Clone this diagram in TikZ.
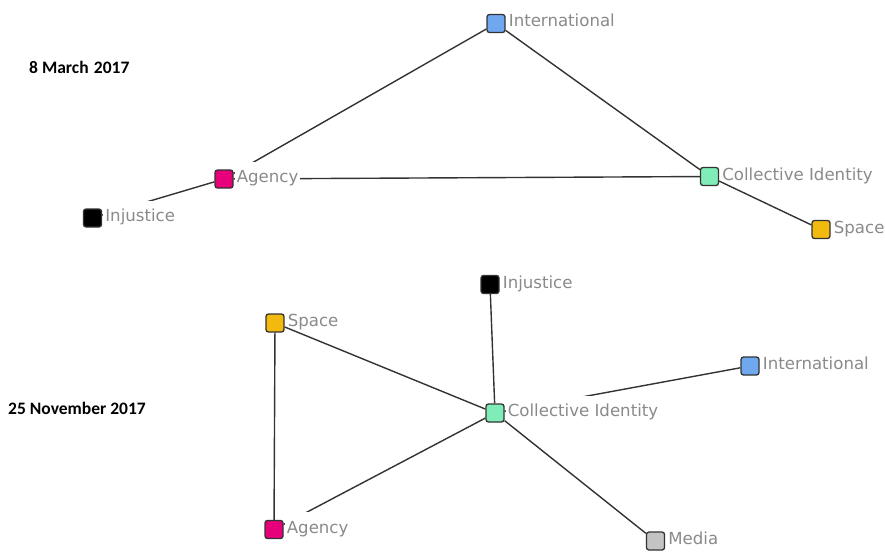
\documentclass[tikz,border=0pt]{standalone}
\usepackage{fontspec}
\setmainfont{DejaVu Sans}
\newfontfamily\titlefont{Carlito}
\definecolor{cintl}{HTML}{6FA8EE}
\definecolor{cagency}{HTML}{E6007A}
\definecolor{cci}{HTML}{80EDB8}
\definecolor{cspace}{HTML}{F2B90F}
\definecolor{cmedia}{HTML}{C3C3C3}
\definecolor{cline}{HTML}{333333}
\definecolor{ctext}{HTML}{8A8A8A}
\begin{document}
\begin{tikzpicture}[x=1pt,y=-1pt,
  sq/.style={draw=cline, line width=1.3pt, rounded corners=2.5pt, minimum size=18pt, inner sep=0pt},
  lbl/.style={anchor=west, fill=white, text=ctext, font=\fontsize{16.6}{18}\selectfont,
    minimum height=35pt, inner xsep=2pt, inner ysep=0pt, text height=13pt, text depth=6pt},
  edge/.style={draw=cline, line width=1.4pt},
  title/.style={anchor=base west, font=\titlefont\bfseries\fontsize{17.5}{18}\selectfont, inner sep=0pt}]
\useasboundingbox[fill=white] (0,0) rectangle (885,551);

% titles
\node[title] (t1) at (29,74) {8 March\hspace{0.08em} 2017};
\node[title] (t2) at (8,414) {25 November 2017};

% top network nodes
\node[sq, fill=cintl]   (I1) at (496,23.5) {};
\node[sq, fill=cagency] (A1) at (224,179) {};
\node[sq, fill=black]   (J1) at (92.5,218) {};
\node[sq, fill=cci]     (C1) at (709.5,176.5) {};
\node[sq, fill=cspace]  (S1) at (821,229.5) {};

% bottom network nodes
\node[sq, fill=black]   (J2) at (490,284.5) {};
\node[sq, fill=cspace]  (S2) at (275,323) {};
\node[sq, fill=cci]     (C2) at (495,413) {};
\node[sq, fill=cintl]   (N2) at (750,366) {};
\node[sq, fill=cagency] (A2) at (274,529.5) {};
\node[sq, fill=cmedia]  (M2) at (655.5,541) {};

% edges partly covered by labels
\draw[edge] (A1) -- (I1);
\draw[edge] (A1) -- (C1);
\draw[edge] (J1) -- (A1);
\draw[edge] (C2) -- (N2);
\draw[edge] (A2) -- (C2);

% labels
\node[lbl] (lI1) at ([xshift=1pt]I1.east) {International};
\node[lbl] (lA1) at ([xshift=1pt]A1.east) {Agency};
\node[lbl] (lJ1) at ([xshift=1pt]J1.east) {Injustice};
\node[lbl] (lC1) at ([xshift=1pt]C1.east) {Collective Identity};
\node[lbl] (lS1) at ([xshift=1pt]S1.east) {Space};
\node[lbl] (lJ2) at ([xshift=1pt]J2.east) {Injustice};
\node[lbl] (lS2) at ([xshift=1pt]S2.east) {Space};
\node[lbl] (lC2) at ([xshift=1pt]C2.east) {Collective Identity};
\node[lbl] (lN2) at ([xshift=1pt]N2.east) {International};
\node[lbl] (lA2) at ([xshift=1pt]A2.east) {Agency};
\node[lbl] (lM2) at ([xshift=1pt]M2.east) {Media};

% fully visible edges
\draw[edge] (I1) -- (C1);
\draw[edge] (C1) -- (S1);
\draw[edge] (J2) -- (C2);
\draw[edge] (S2) -- (C2);
\draw[edge] (S2) -- (A2);
\draw[edge] (C2) -- (M2);
\end{tikzpicture}
\end{document}
